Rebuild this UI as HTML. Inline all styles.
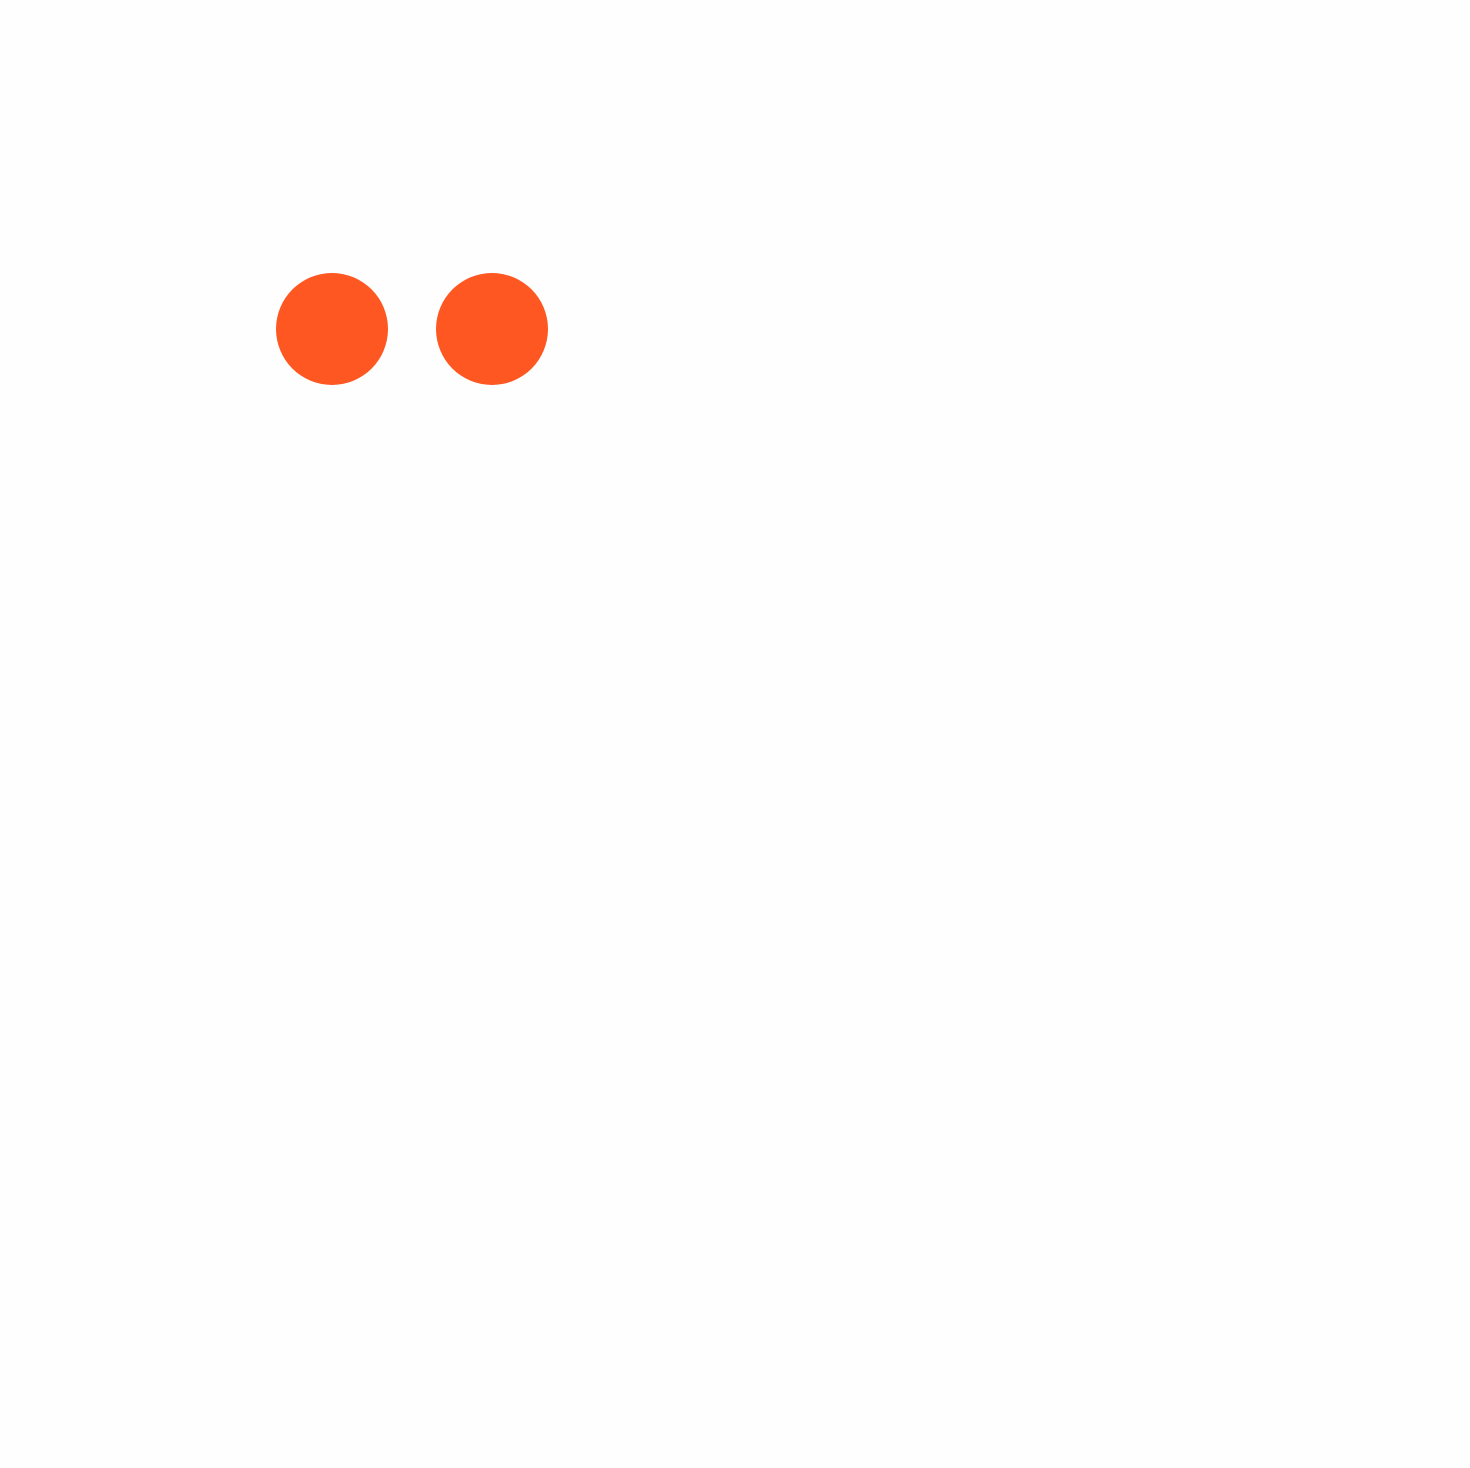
<!DOCTYPE html>
<html>
<head>
<meta charset="utf-8">
<style>
html,body{margin:0;padding:0;background:#fefefe;}
svg{display:block;}
</style>
</head>
<body>
<svg id="chart" width="1470" height="1468" viewBox="0 0 1470 1468">
<rect x="0" y="0" width="1470" height="1468" fill="#fefefe"></rect>
<g id="marks"></g>
</svg>
<script>
const categories = ["a", "b"];
const xValues = [1, 2];
const yValues = [1, 1];

function xScale(v) { return 172 + v * 160; }
function yScale(v) { return 329 * v; }

const g = document.getElementById('marks');
const ns = 'http://www.w3.org/2000/svg';
for (let i = 0; i < categories.length; i++) {
  const c = document.createElementNS(ns, 'circle');
  c.setAttribute('cx', xScale(xValues[i]));
  c.setAttribute('cy', yScale(yValues[i]));
  c.setAttribute('r', 56);
  c.setAttribute('fill', '#ff5722');
  
  
  g.appendChild(c);
}
</script>
</body>
</html>
